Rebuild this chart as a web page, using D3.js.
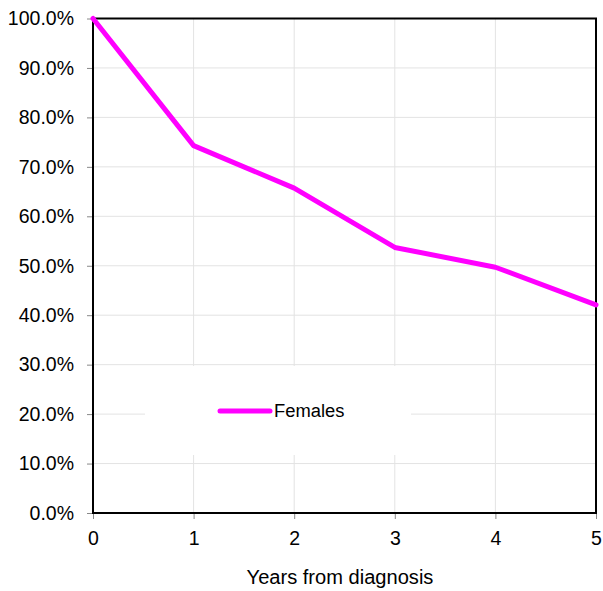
<!DOCTYPE html>
<html>
<head>
<meta charset="utf-8">
<script src="https://cdn.jsdelivr.net/npm/d3@7"></script>
<style>
  html, body { margin: 0; padding: 0; background: #fff; }
  svg { display: block; }
  text { font-family: "Liberation Sans", Arial, sans-serif; fill: #000; }
</style>
</head>
<body>
<svg id="chart" width="603" height="591"></svg>
<script>
// Survival proportion by years since diagnosis
const years = [0, 1, 2, 3, 4, 5];
const females = [100.0, 74.3, 65.7, 53.7, 49.7, 42.1];
const yTicks = [0, 10, 20, 30, 40, 50, 60, 70, 80, 90, 100];
const seriesName = "Females";
const xTitle = "Years from diagnosis";

const svg = d3.select("#chart");
const margin = { left: 93, right: 7, top: 18.5, bottom: 78 };
const W = 603, H = 591;

const x = d3.scaleLinear().domain([0, 5]).range([margin.left, W - margin.right]);
const y = d3.scaleLinear().domain([0, 100]).range([H - margin.bottom, margin.top]);

const fontSize = 19.5;
const legendFont = 18;

// widen text a touch beyond the font's natural advance
function stretch(factor) {
  return sel => sel.each(function () {
    const w = this.getComputedTextLength();
    d3.select(this).attr("textLength", w * factor).attr("lengthAdjust", "spacingAndGlyphs");
  });
}

// gridlines
const grid = svg.append("g");
grid.selectAll("line.h").data(yTicks.slice(1, -1)).join("line")
  .attr("x1", x(0)).attr("x2", x(5))
  .attr("y1", d => y(d)).attr("y2", d => y(d))
  .attr("stroke", "#e3e3e3").attr("stroke-width", 1);
grid.selectAll("line.v").data(years.slice(1, -1)).join("line")
  .attr("y1", y(0)).attr("y2", y(100))
  .attr("x1", d => x(d)).attr("x2", d => x(d))
  .attr("stroke", "#e3e3e3").attr("stroke-width", 1);

// y axis
const yAxis = d3.axisLeft(y).tickValues(yTicks).tickSize(6).tickPadding(13)
  .tickFormat(d => d3.format(".1f")(d) + "%");
const ga = svg.append("g").attr("transform", `translate(${margin.left},0)`).call(yAxis);
ga.select(".domain").remove();
ga.selectAll(".tick line").attr("stroke", "#888");
ga.selectAll(".tick text").style("font-size", fontSize + "px")
  .attr("font-family", "Liberation Sans, Arial, sans-serif").attr("fill", "#000")
  .call(stretch(1.0));

// x axis
const xAxis = d3.axisBottom(x).tickValues(years).tickSize(6).tickPadding(12).tickFormat(d3.format("d"));
const gx = svg.append("g").attr("transform", `translate(0,${y(0)})`).call(xAxis);
gx.select(".domain").remove();
gx.selectAll(".tick line").attr("stroke", "#888");
gx.selectAll(".tick text").style("font-size", fontSize + "px")
  .attr("font-family", "Liberation Sans, Arial, sans-serif").attr("fill", "#000");

// legend box (white, covers grid)
const lg = svg.append("g");
lg.append("rect").attr("x", 145).attr("y", 366).attr("width", 266).attr("height", 89).attr("fill", "#fff");

// plot border
svg.append("rect")
  .attr("x", x(0)).attr("y", y(100))
  .attr("width", x(5) - x(0)).attr("height", y(0) - y(100))
  .attr("fill", "none").attr("stroke", "#000").attr("stroke-width", 2);

// series line
const line = d3.line().x((d, i) => x(years[i])).y(d => y(d));
svg.append("path").datum(females)
  .attr("d", line)
  .attr("fill", "none").attr("stroke", "#ff00ff").attr("stroke-width", 5)
  .attr("stroke-linejoin", "round").attr("stroke-linecap", "round");

// legend entry
lg.append("line").attr("x1", 220).attr("x2", 270).attr("y1", 411).attr("y2", 411)
  .attr("stroke", "#ff00ff").attr("stroke-width", 5).attr("stroke-linecap", "round");
lg.append("text").attr("x", 274).attr("y", 417).style("font-size", legendFont + "px")
  .text(seriesName).call(stretch(1.02));

// x axis title
svg.append("text").attr("x", 340).attr("y", 583.5).attr("text-anchor", "middle")
  .style("font-size", fontSize + "px").text(xTitle).call(stretch(1.03));
</script>
</body>
</html>
